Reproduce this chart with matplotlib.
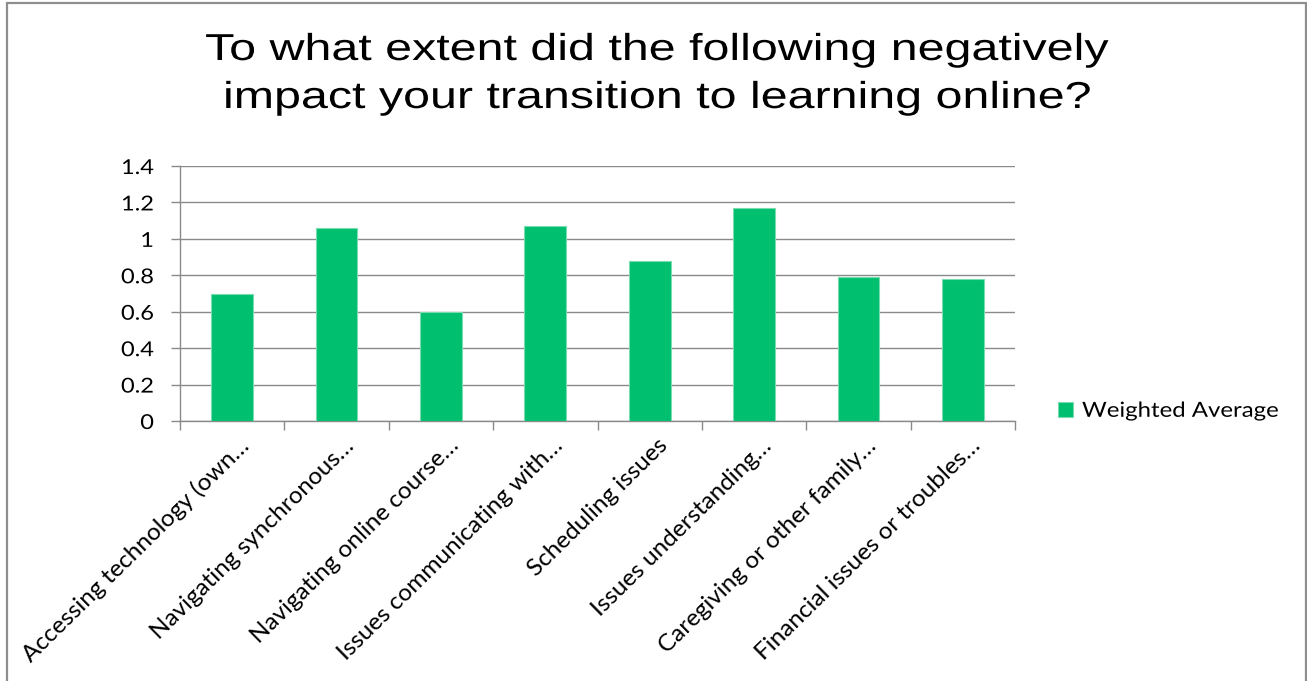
import numpy as np
import matplotlib
matplotlib.use("Agg")
import matplotlib.pyplot as plt
from matplotlib import patheffects
from matplotlib.transforms import Affine2D, ScaledTranslation
from matplotlib.patches import Rectangle

# ---- data -------------------------------------------------------------
categories = [
    "Accessing technology (own…",
    "Navigating synchronous…",
    "Navigating online course…",
    "Issues communicating with…",
    "Scheduling issues",
    "Issues understanding…",
    "Caregiving or other family…",
    "Financial issues or troubles…",
]
weighted_average = [0.70, 1.06, 0.60, 1.07, 0.88, 1.17, 0.79, 0.78]
series_name = "Weighted Average"
y_ticks = [0, 0.2, 0.4, 0.6, 0.8, 1.0, 1.2, 1.4]
y_tick_labels = ["0", "0.2", "0.4", "0.6", "0.8", "1", "1.2", "1.4"]
title_lines = [
    "To what extent did the following negatively",
    "impact your transition to learning online?",
]

# ---- styling ----------------------------------------------------------
W, H, DPI = 1307, 681, 100
BAR_COLOR = "#00BF6F"
BAR_EDGE = "#7ADDB2"
GRID_COLOR = "#8A8A8A"
BORDER_COLOR = "#8E8E8E"
LABEL_FONT = ["Lato", "DejaVu Sans"]
TITLE_FONT = ["Liberation Sans", "DejaVu Sans"]


class Widen(patheffects.AbstractPathEffect):
    """Scale glyph outlines horizontally about the text's anchor point."""

    def __init__(self, artist, factor):
        super().__init__()
        self.artist = artist
        self.factor = factor

    def draw_path(self, renderer, gc, tpath, affine, rgbFace=None):
        t = self.artist
        x0, y0 = t.get_transform().transform(t.get_unitless_position())
        stretch = Affine2D().translate(-x0, -y0).scale(self.factor, 1.0).translate(x0, y0)
        renderer.draw_path(gc, tpath, affine + stretch, rgbFace)


def widen(text, factor):
    text.set_path_effects([Widen(text, factor)])


def px(x, y):
    """Figure-fraction coordinates from pixel offsets measured from the top-left."""
    return x / W, 1.0 - y / H


fig = plt.figure(figsize=(W / DPI, H / DPI), dpi=DPI)
fig.patch.set_facecolor("white")

# outer chart frame
fig.add_artist(Rectangle(px(7, 760), (1306 - 7) / W, (760 - 3) / H,
                         transform=fig.transFigure, fill=False,
                         edgecolor=BORDER_COLOR, linewidth=1.6))

ax_left, ax_right, ax_top, ax_bottom = 180, 1015, 166, 421
ax = fig.add_axes([ax_left / W, 1 - ax_bottom / H,
                   (ax_right - ax_left) / W, (ax_bottom - ax_top) / H])

x = np.arange(len(categories))
ax.bar(x, weighted_average, width=0.4, color=BAR_COLOR,
       edgecolor=BAR_EDGE, linewidth=0.8, zorder=3, label=series_name)

ax.set_xlim(-0.5, len(categories) - 0.5)
ax.set_ylim(0, 1.4)

# horizontal gridlines and axes
ax.set_yticks(y_ticks)
ax.set_yticklabels(y_tick_labels, fontfamily=LABEL_FONT, fontsize=14.8)
ax.yaxis.grid(True, color=GRID_COLOR, linewidth=1.0, zorder=0)
ax.set_axisbelow(True)
for side in ("top", "right"):
    ax.spines[side].set_visible(False)
for side in ("left", "bottom"):
    ax.spines[side].set_color(GRID_COLOR)
    ax.spines[side].set_linewidth(1.0)
ax.tick_params(axis="y", direction="out", length=6.3, width=1.0,
               color=GRID_COLOR, pad=12.5, labelcolor="black")

# category tick marks sit between bars
ax.set_xticks(np.arange(-0.5, len(categories), 1.0), minor=True)
ax.tick_params(axis="x", which="minor", direction="out", length=6.5,
               width=1.0, color=GRID_COLOR)
ax.set_xticks(x)
ax.set_xticklabels(categories, rotation=44.5, ha="right", va="baseline",
                   rotation_mode="anchor", fontfamily=LABEL_FONT, fontsize=17.5)
ax.tick_params(axis="x", which="major", length=0, pad=0, labelcolor="black")
label_shift = ScaledTranslation(19 / DPI, -26 / DPI, fig.dpi_scale_trans)
for lab in ax.get_xticklabels():
    lab.set_transform(lab.get_transform() + label_shift)

for lab in ax.get_yticklabels():
    widen(lab, 1.15)

# legend to the right of the plot
leg = ax.legend(loc="center left", bbox_to_anchor=(1.0515, 0.04),
                frameon=False, handlelength=0.72, handleheight=0.7,
                handletextpad=0.43, borderpad=0, borderaxespad=0,
                prop={"family": LABEL_FONT, "size": 15})
for t in leg.get_texts():
    widen(t, 1.15)

# two-line title
for line, base in zip(title_lines, (60, 108)):
    t = fig.text(*px(657, base), line, ha="center", va="baseline",
                 fontfamily=TITLE_FONT, fontsize=27, color="black")
    widen(t, 1.29)

fig.savefig("out.png", dpi=DPI, facecolor="white")
